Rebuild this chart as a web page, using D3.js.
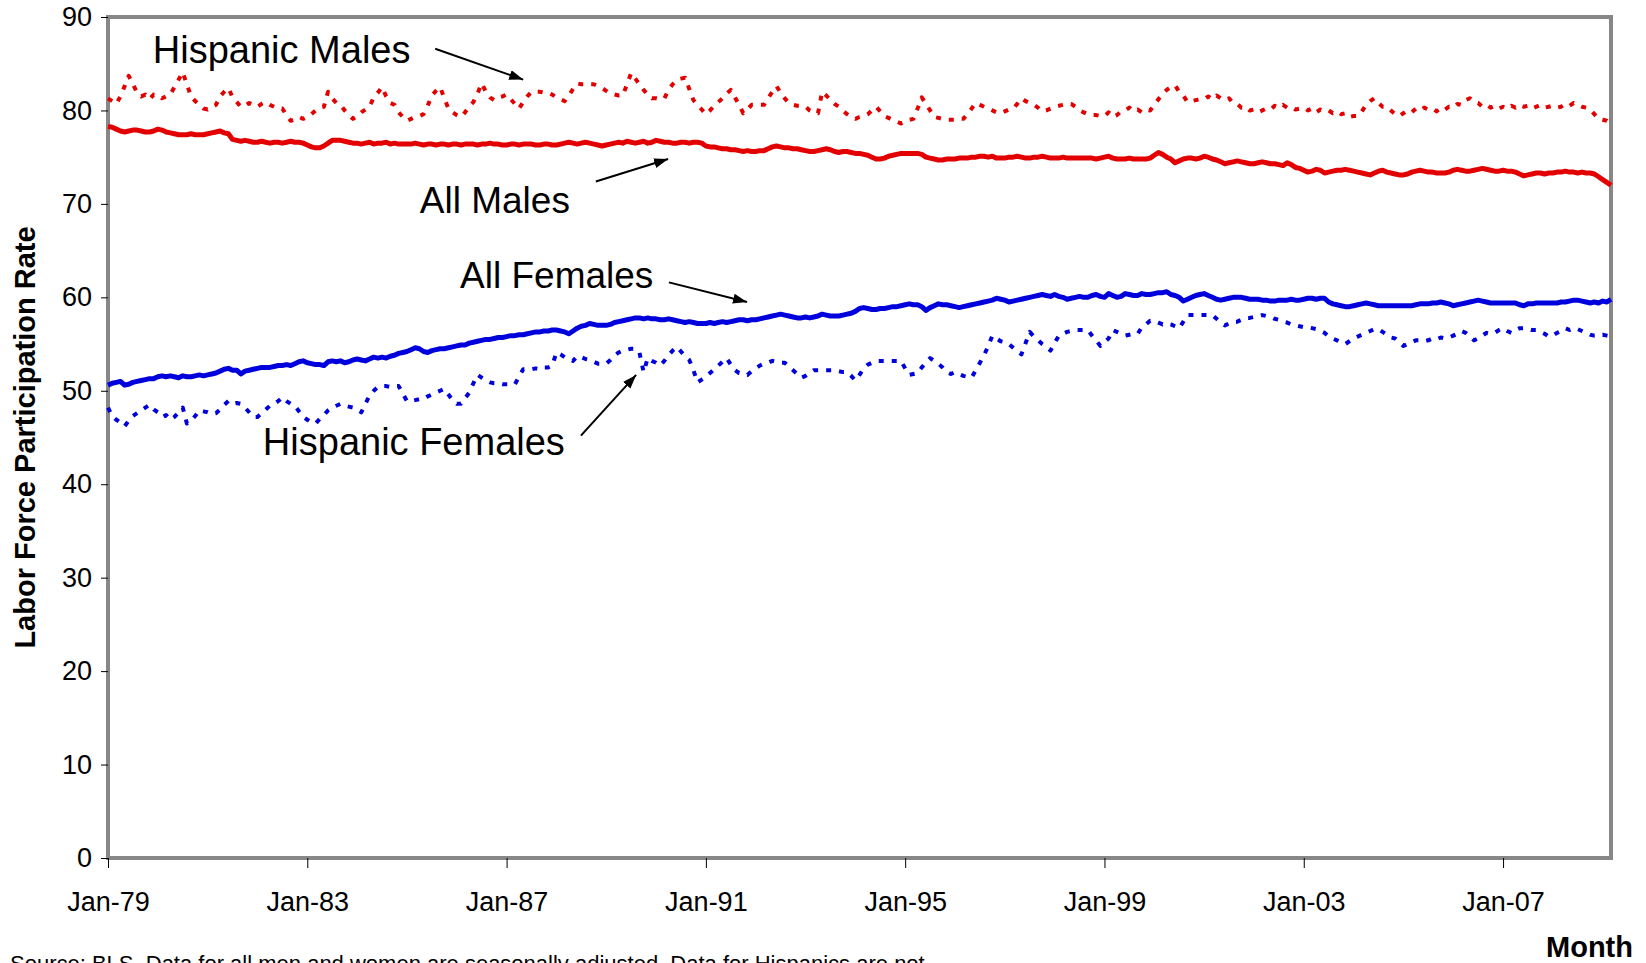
<!DOCTYPE html>
<html>
<head>
<meta charset="utf-8">
<script src="https://cdn.jsdelivr.net/npm/d3@7"></script>
<style>
  body { margin: 0; background: #fff; }
  svg { display: block; font-family: "Liberation Sans", Arial, sans-serif; }
</style>
</head>
<body>
<svg width="1646" height="963"></svg>
<script>
// monthly values, Jan-79 .. Mar-09
var allMales = [
  78.3,78.2,78.0,77.8,77.7,77.8,77.9,77.9,77.8,77.7,77.7,77.8,
  78.0,77.9,77.7,77.6,77.5,77.4,77.4,77.4,77.5,77.4,77.4,77.4,
  77.5,77.6,77.7,77.8,77.6,77.5,76.9,76.8,76.7,76.8,76.7,76.6,
  76.6,76.7,76.6,76.5,76.6,76.6,76.5,76.6,76.7,76.6,76.6,76.5,
  76.3,76.1,76.0,76.0,76.2,76.5,76.8,76.8,76.8,76.7,76.6,76.5,
  76.5,76.4,76.5,76.6,76.4,76.5,76.5,76.6,76.4,76.5,76.4,76.4,
  76.4,76.4,76.5,76.4,76.3,76.4,76.4,76.3,76.4,76.4,76.3,76.4,
  76.4,76.3,76.4,76.4,76.4,76.3,76.4,76.4,76.5,76.4,76.4,76.3,
  76.3,76.4,76.4,76.3,76.4,76.4,76.4,76.3,76.3,76.4,76.4,76.3,
  76.3,76.4,76.5,76.6,76.5,76.4,76.5,76.6,76.5,76.4,76.3,76.2,
  76.3,76.4,76.5,76.6,76.5,76.7,76.6,76.5,76.6,76.7,76.5,76.6,
  76.8,76.7,76.6,76.6,76.5,76.5,76.6,76.6,76.5,76.6,76.6,76.5,
  76.2,76.1,76.1,76.0,75.9,75.9,75.8,75.8,75.7,75.6,75.7,75.6,
  75.6,75.7,75.7,75.9,76.1,76.2,76.1,76.0,76.0,75.9,75.9,75.8,
  75.7,75.6,75.6,75.7,75.8,75.9,75.8,75.6,75.5,75.6,75.6,75.5,
  75.4,75.4,75.3,75.2,75.0,74.8,74.8,74.9,75.1,75.2,75.3,75.4,
  75.4,75.4,75.4,75.4,75.3,75.0,74.9,74.8,74.7,74.7,74.8,74.8,
  74.8,74.9,74.9,74.9,75.0,75.0,75.1,75.1,75.0,75.1,74.9,74.9,
  74.9,75.0,75.0,75.1,75.0,74.9,74.9,75.0,75.0,75.1,75.0,74.9,
  74.9,74.9,75.0,74.9,74.9,74.9,74.9,74.9,74.9,74.9,74.8,74.9,
  75.0,75.1,74.9,74.8,74.8,74.8,74.9,74.8,74.8,74.8,74.8,74.9,
  75.2,75.5,75.3,75.0,74.8,74.4,74.6,74.8,74.9,74.9,74.8,74.9,
  75.1,75.0,74.8,74.7,74.5,74.3,74.4,74.5,74.6,74.5,74.4,74.3,
  74.3,74.4,74.5,74.4,74.3,74.3,74.2,74.1,74.4,74.2,73.9,73.8,
  73.6,73.4,73.5,73.7,73.6,73.3,73.4,73.5,73.6,73.6,73.7,73.6,
  73.5,73.4,73.3,73.2,73.1,73.3,73.5,73.6,73.4,73.3,73.2,73.1,
  73.1,73.2,73.4,73.5,73.6,73.5,73.4,73.4,73.3,73.3,73.3,73.4,
  73.6,73.7,73.6,73.5,73.5,73.6,73.7,73.8,73.7,73.6,73.5,73.5,
  73.6,73.5,73.5,73.4,73.2,73.0,73.1,73.2,73.3,73.3,73.2,73.3,
  73.3,73.4,73.4,73.5,73.4,73.4,73.3,73.4,73.3,73.3,73.2,72.9,
  72.6,72.3,72.0
];

var hispMales = [
  81.3,81.0,80.7,81.5,82.6,83.7,82.8,81.9,81.5,81.7,81.2,81.7,
  81.7,81.3,81.5,81.7,82.5,83.3,84.1,82.8,81.5,81.0,80.6,80.2,
  80.1,80.4,80.6,81.5,82.0,82.4,81.4,80.9,80.4,80.5,80.8,80.6,
  80.4,80.7,80.9,80.6,80.4,80.2,80.2,79.5,78.9,79.0,79.3,79.1,
  79.3,79.6,80.0,80.3,80.4,82.0,81.3,80.8,80.6,80.0,79.5,79.1,
  79.4,79.8,80.1,80.4,81.4,81.9,82.5,81.5,80.8,80.6,79.8,79.3,
  78.9,79.1,79.3,79.4,79.6,80.5,81.6,82.1,82.5,81.3,80.2,79.8,
  79.5,79.3,79.8,80.4,80.9,81.8,82.9,82.0,81.4,81.1,81.4,81.5,
  81.7,81.2,80.7,80.2,80.9,81.5,82.0,82.0,82.0,81.9,81.9,81.7,
  81.4,81.2,81.0,81.6,82.3,82.9,82.8,82.8,82.8,82.8,82.6,82.4,
  82.1,81.8,81.7,81.6,81.6,82.8,84.0,83.4,82.8,82.2,81.7,81.3,
  81.3,81.2,81.3,82.2,82.8,83.3,83.4,83.5,82.3,81.1,80.6,80.1,
  79.6,80.0,80.5,80.9,81.3,81.8,82.2,81.4,80.6,79.7,80.1,80.6,
  80.6,80.6,80.6,81.3,82.0,82.6,81.9,81.3,80.8,80.6,80.5,80.5,
  80.4,80.0,79.8,79.7,82.0,81.6,81.1,80.7,80.4,80.0,79.6,79.3,
  79.1,79.3,79.4,79.6,80.0,80.4,79.9,79.4,79.2,79.0,78.8,78.6,
  78.8,79.0,79.1,80.2,81.4,80.7,80.0,79.3,79.2,79.1,79.0,79.0,
  79.0,79.1,79.1,79.6,80.2,80.8,80.6,80.4,80.2,80.0,79.8,79.7,
  79.9,80.1,80.2,80.7,81.3,81.0,80.8,80.6,80.3,79.9,80.0,80.2,
  80.4,80.5,80.6,80.7,80.7,80.4,80.0,79.8,79.6,79.5,79.5,79.4,
  79.4,79.8,79.3,79.5,79.9,80.0,80.3,79.9,80.1,79.8,80.1,80.0,
  80.6,81.2,81.8,82.2,82.5,82.7,82.0,81.6,80.9,81.0,81.1,81.2,
  81.2,81.5,81.2,81.6,81.3,81.1,81.3,80.8,80.7,80.3,80.4,80.0,
  80.1,79.8,80.0,80.2,80.1,80.5,80.3,80.6,80.3,80.4,80.1,80.2,
  80.3,80.0,80.2,79.8,80.1,79.9,80.0,79.7,79.9,79.6,79.7,79.3,
  79.4,79.4,79.9,80.6,81.0,81.3,80.8,80.4,80.4,80.0,79.6,79.4,
  79.7,80.0,79.8,80.2,80.0,80.3,80.1,80.2,79.9,80.3,80.1,80.4,
  80.3,80.7,80.6,81.1,81.3,80.9,80.8,80.4,80.6,80.3,80.5,80.2,
  80.4,80.2,80.5,80.3,80.6,80.4,80.5,80.2,80.4,80.6,80.3,80.4,
  80.5,80.3,80.4,80.7,80.5,80.8,80.6,80.4,80.3,80.1,79.6,79.1,
  79.0,78.9,78.6
];

var allFemales = [
  50.6,50.8,50.9,51.0,50.6,50.7,50.9,51.0,51.1,51.2,51.3,51.3,
  51.5,51.6,51.5,51.6,51.5,51.4,51.6,51.5,51.5,51.6,51.7,51.6,
  51.7,51.8,51.9,52.1,52.3,52.4,52.2,52.2,51.8,52.1,52.2,52.3,
  52.4,52.5,52.5,52.5,52.6,52.7,52.7,52.8,52.7,52.9,53.1,53.2,
  53.0,52.9,52.8,52.8,52.7,53.1,53.2,53.1,53.2,53.0,53.1,53.3,
  53.4,53.3,53.2,53.4,53.6,53.5,53.6,53.5,53.7,53.8,54.0,54.1,
  54.2,54.4,54.6,54.5,54.2,54.1,54.3,54.4,54.5,54.5,54.6,54.7,
  54.8,54.9,54.9,55.1,55.2,55.3,55.4,55.5,55.5,55.6,55.7,55.7,
  55.8,55.9,55.9,56.0,56.0,56.1,56.2,56.3,56.3,56.4,56.4,56.5,
  56.5,56.4,56.3,56.1,56.4,56.7,56.9,57.0,57.2,57.1,57.0,57.0,
  57.0,57.1,57.3,57.4,57.5,57.6,57.7,57.8,57.8,57.7,57.8,57.7,
  57.7,57.6,57.6,57.7,57.6,57.5,57.4,57.3,57.4,57.3,57.2,57.2,
  57.2,57.3,57.2,57.3,57.4,57.3,57.4,57.5,57.6,57.6,57.5,57.6,
  57.6,57.7,57.8,57.9,58.0,58.1,58.2,58.1,58.0,57.9,57.8,57.8,
  57.9,57.8,57.9,58.0,58.2,58.1,58.0,58.0,58.0,58.1,58.2,58.3,
  58.5,58.8,58.9,58.8,58.7,58.7,58.8,58.8,58.9,59.0,59.0,59.1,
  59.2,59.3,59.2,59.2,59.0,58.6,58.9,59.1,59.3,59.2,59.2,59.1,
  59.0,58.9,59.0,59.1,59.2,59.3,59.4,59.5,59.6,59.7,59.9,59.8,
  59.7,59.5,59.6,59.7,59.8,59.9,60.0,60.1,60.2,60.3,60.2,60.1,
  60.3,60.1,60.0,59.8,59.9,60.0,60.1,60.0,60.0,60.2,60.3,60.1,
  60.0,60.4,60.2,60.0,60.1,60.4,60.3,60.2,60.2,60.4,60.3,60.3,
  60.4,60.5,60.5,60.6,60.3,60.2,60.0,59.6,59.8,60.0,60.2,60.3,
  60.4,60.2,60.0,59.8,59.7,59.8,59.9,60.0,60.0,60.0,59.9,59.8,
  59.8,59.8,59.7,59.7,59.6,59.6,59.7,59.7,59.7,59.8,59.7,59.7,
  59.8,59.9,59.9,59.8,59.9,59.9,59.5,59.3,59.2,59.1,59.0,59.0,
  59.1,59.2,59.3,59.4,59.3,59.2,59.1,59.1,59.1,59.1,59.1,59.1,
  59.1,59.1,59.1,59.2,59.3,59.3,59.3,59.4,59.4,59.5,59.4,59.3,
  59.1,59.2,59.3,59.4,59.5,59.6,59.7,59.6,59.5,59.4,59.4,59.4,
  59.4,59.4,59.4,59.4,59.2,59.1,59.3,59.3,59.4,59.4,59.4,59.4,
  59.4,59.4,59.5,59.5,59.6,59.7,59.7,59.6,59.5,59.4,59.5,59.4,
  59.6,59.5,59.8
];

var hispFemales = [
  48.2,47.3,46.9,46.6,46.2,46.8,47.3,47.6,47.9,48.2,48.5,48.0,
  47.7,47.2,47.4,46.9,47.2,47.7,48.2,46.5,46.8,47.3,47.9,47.8,
  47.7,47.5,47.6,48.0,48.5,48.9,48.6,48.7,48.6,48.2,47.7,47.2,
  47.2,47.6,48.0,48.4,48.6,48.9,49.3,48.9,48.6,48.4,47.8,47.2,
  46.9,46.6,46.5,47.0,47.4,47.9,48.2,48.4,48.6,48.4,48.3,48.2,
  48.0,47.7,48.6,49.5,50.0,50.4,50.5,50.5,50.4,50.5,50.5,49.7,
  48.9,48.9,49.0,49.1,49.1,49.4,49.6,49.8,50.0,50.2,49.6,49.0,
  48.6,48.6,49.2,49.8,50.8,51.7,51.4,51.1,50.9,50.8,50.8,50.7,
  50.7,50.7,50.7,51.5,52.3,52.3,52.3,52.4,52.3,52.5,52.5,52.7,
  54.1,53.9,53.6,53.4,53.2,53.7,53.6,53.4,53.3,53.1,52.9,52.9,
  52.9,53.3,53.8,54.1,54.3,54.4,54.5,54.5,54.1,52.0,53.5,53.2,
  53.0,52.7,53.2,53.8,54.3,54.7,54.2,53.7,53.3,52.2,50.9,51.2,
  51.5,51.9,52.3,52.7,53.1,53.5,52.8,52.2,51.9,51.8,51.7,52.1,
  52.4,52.7,52.9,53.0,53.2,53.1,53.0,53.0,52.6,52.2,51.8,51.4,
  51.6,51.9,52.2,52.2,52.2,52.2,52.2,52.2,52.1,52.0,52.0,51.6,
  51.1,51.7,52.4,52.8,53.0,53.2,53.2,53.2,53.2,53.2,53.2,53.2,
  52.4,51.7,51.8,51.9,52.5,53.0,53.5,53.2,52.9,52.5,52.0,51.8,
  52.0,51.8,51.6,51.5,51.4,52.2,53.0,53.8,54.8,55.9,55.6,55.3,
  55.2,55.0,54.6,54.2,53.9,55.1,56.3,55.8,55.4,55.0,54.7,54.3,
  55.1,55.9,56.1,56.3,56.4,56.5,56.5,56.5,56.5,55.9,55.4,54.8,
  55.2,55.6,56.5,56.3,56.1,55.9,56.0,56.1,56.1,56.8,57.1,57.5,
  57.5,57.3,57.1,57.2,57.1,56.9,56.7,57.4,58.1,58.1,58.1,58.1,
  58.1,58.1,58.1,57.7,57.3,57.0,57.2,57.4,57.4,57.6,57.8,57.8,
  57.9,58.0,58.1,58.0,57.9,57.7,57.6,57.4,57.3,57.1,57.0,56.9,
  56.8,56.8,56.7,56.6,56.4,56.2,55.8,55.6,55.4,55.2,55.0,55.3,
  55.6,55.8,56.0,56.2,56.4,56.6,56.6,56.3,56.0,55.7,55.6,55.2,
  54.8,55.0,55.2,55.4,55.4,55.3,55.4,55.6,55.5,55.7,55.6,55.7,
  55.9,56.1,56.4,56.2,55.8,55.4,55.6,55.9,56.2,56.1,56.2,56.5,
  56.7,56.4,56.2,56.5,56.7,56.7,56.6,56.5,56.5,56.3,56.1,55.8,
  55.9,56.2,56.4,56.7,56.5,56.7,56.6,56.4,56.2,56.0,55.9,55.9,
  56.0,55.9,55.8
];

var xTickLabels = ["Jan-79", "Jan-83", "Jan-87", "Jan-91", "Jan-95", "Jan-99", "Jan-03", "Jan-07"];
var yTicks = [0, 10, 20, 30, 40, 50, 60, 70, 80, 90];

var svg = d3.select("svg");
var plotLeft = 108, plotRight = 1611, plotTop = 17, plotBottom = 858;
var red = "#e30000", blue = "#0000dc";

var x = d3.scaleLinear().domain([0, allMales.length - 1]).range([plotLeft, plotRight]);
var y = d3.scaleLinear().domain([0, 90]).range([plotBottom, plotTop]);

// plot frame
svg.append("rect")
    .attr("x", plotLeft).attr("y", plotTop)
    .attr("width", plotRight - plotLeft).attr("height", plotBottom - plotTop)
    .attr("fill", "none")
    .attr("stroke", "#878787")
    .attr("stroke-width", 4);

var yAxis = svg.append("g")
    .attr("transform", "translate(" + plotLeft + ",0)")
    .call(d3.axisLeft(y).tickValues(yTicks).tickSize(7).tickPadding(9));

var xAxis = svg.append("g")
    .attr("transform", "translate(0," + plotBottom + ")")
    .call(d3.axisBottom(x)
        .tickValues(xTickLabels.map(function(d, i) { return i * 48; }))
        .tickFormat(function(d, i) { return xTickLabels[i]; })
        .tickSize(10).tickPadding(24));

[yAxis, xAxis].forEach(function(g) {
    g.select(".domain").remove();
    g.selectAll(".tick line").attr("stroke", "#000").attr("stroke-width", 1);
    g.selectAll(".tick text")
        .attr("font-family", "Liberation Sans, Arial, sans-serif")
        .attr("font-size", 27)
        .attr("fill", "#000");
});

var line = d3.line()
    .x(function(d, i) { return x(i); })
    .y(function(d) { return y(d); });

var series = [
    {values: hispMales, color: red, dash: "5,8", width: 4},
    {values: allMales, color: red, dash: null, width: 5},
    {values: hispFemales, color: blue, dash: "5,8", width: 4},
    {values: allFemales, color: blue, dash: null, width: 5}
];

series.forEach(function(s) {
    svg.append("path")
        .attr("d", line(s.values))
        .attr("fill", "none")
        .attr("stroke", s.color)
        .attr("stroke-width", s.width)
        .attr("stroke-linejoin", "round")
        .attr("stroke-dasharray", s.dash);
});

// arrow labels, positioned in data space (month index, rate)
var notes = [
    {text: "Hispanic Males", size: 38, at: [10.8, 85.1], from: [78.8, 86.6], to: [100, 83.3]},
    {text: "All Males", size: 37, at: [75.1, 69.0], from: [117.5, 72.4], to: [134.9, 74.8]},
    {text: "All Females", size: 37, at: [84.8, 61.0], from: [135.1, 61.6], to: [153.9, 59.5]},
    {text: "Hispanic Females", size: 38, at: [37.3, 43.1], from: [113.9, 45.2], to: [127.2, 51.7]}
];

svg.append("defs").append("marker")
    .attr("id", "head")
    .attr("markerUnits", "userSpaceOnUse")
    .attr("markerWidth", 16).attr("markerHeight", 12)
    .attr("refX", 14).attr("refY", 5)
    .attr("orient", "auto")
  .append("path")
    .attr("d", "M0,0L14,5L0,10Z")
    .attr("fill", "#000");

notes.forEach(function(n) {
    svg.append("text")
        .attr("x", x(n.at[0])).attr("y", y(n.at[1]))
        .attr("font-size", n.size)
        .attr("fill", "#000")
        .text(n.text);
    svg.append("line")
        .attr("x1", x(n.from[0])).attr("y1", y(n.from[1]))
        .attr("x2", x(n.to[0])).attr("y2", y(n.to[1]))
        .attr("stroke", "#000")
        .attr("stroke-width", 2)
        .attr("marker-end", "url(#head)");
});

svg.append("text")
    .attr("transform", "translate(35," + ((plotTop + plotBottom) / 2) + ") rotate(-90)")
    .attr("text-anchor", "middle")
    .attr("font-size", 29)
    .attr("font-weight", "bold")
    .text("Labor Force Participation Rate");

svg.append("text")
    .attr("x", 1633).attr("y", 957)
    .attr("text-anchor", "end")
    .attr("font-size", 29)
    .attr("font-weight", "bold")
    .text("Month");

svg.append("text")
    .attr("x", 10).attr("y", 971)
    .attr("font-size", 22)
    .text("Source: BLS.  Data for all men and women are seasonally adjusted.  Data for Hispanics are not.");
</script>
</body>
</html>
